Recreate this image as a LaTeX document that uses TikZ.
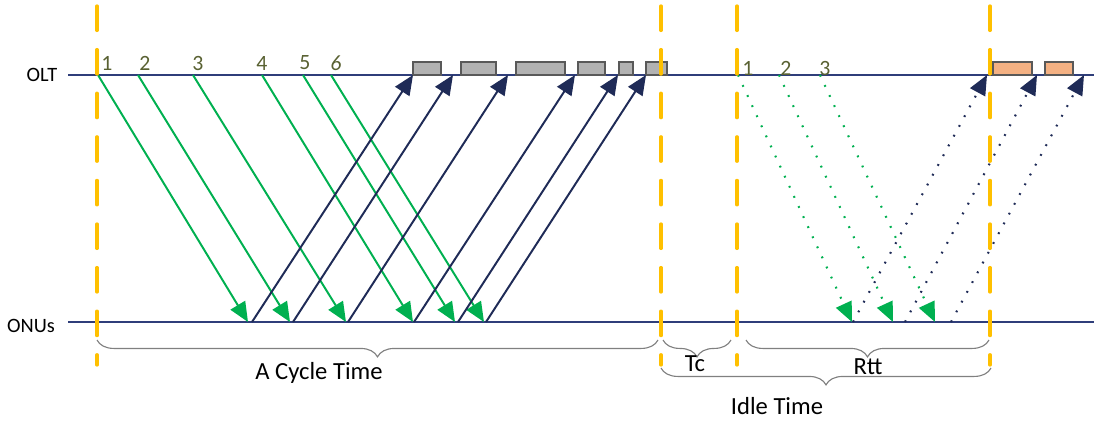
\documentclass[tikz,border=0pt]{standalone}
\usepackage{fontspec}
\setmainfont{Carlito}
\usetikzlibrary{arrows.meta,decorations.pathreplacing}
\definecolor{linenavy}{RGB}{47,62,122}
\definecolor{arrownavy}{RGB}{31,43,87}
\definecolor{grantgreen}{RGB}{0,176,80}
\definecolor{cycleorange}{RGB}{255,192,0}
\definecolor{olivenum}{RGB}{89,97,50}
\definecolor{greyslot}{RGB}{178,178,178}
\definecolor{orangeslot}{RGB}{244,177,131}

\begin{document}
\begin{tikzpicture}[x=0.025cm,y=-0.025cm,>={Triangle[length=14pt,width=12pt]},
                    line join=miter]
\tikzstyle{every node}=[font=\fontsize{14.5}{17}\selectfont,inner sep=0pt]
  \tikzstyle{fibre}=[draw=linenavy,line width=1.8pt]
  \tikzstyle{grant}=[->,draw=grantgreen,line width=1.4pt]
  \tikzstyle{report}=[->,draw=arrownavy,line width=1.4pt]
  \tikzstyle{dotline}=[line width=1.5pt,dash pattern=on 1.3pt off 6.6pt]
  \tikzstyle{cycleline}=[draw=cycleorange,line width=2.3pt,line cap=round,dash pattern=on 17.4pt off 13.6pt]
  \tikzstyle{slot}=[draw=black!65,line width=1.1pt]
  \tikzstyle{spanbrace}=[draw=black!50,line width=0.8pt,decorate,decoration={brace,mirror,amplitude=12pt}]
  \tikzstyle{num}=[text=olivenum,font=\fontsize{15.5}{18}\selectfont]
  \tikzstyle{spantext}=[font=\fontsize{17.5}{20}\selectfont]
\useasboundingbox (0,0) rectangle (1094,423);

% OLT and ONU time lines
\node (olt) at (42,75) {OLT};
\node (onu) at (31,326) {ONUs};
\coordinate (oltl) at (68,75); \coordinate (oltr) at (1094,75);
\coordinate (onul) at (68,322); \coordinate (onur) at (1094,322);
\draw[fibre] (oltl) -- (oltr);
\draw[fibre] (onul) -- (onur);

% upstream slots
\draw[slot,fill=greyslot] (413,62) rectangle (441,75);
\draw[slot,fill=greyslot] (461,62) rectangle (496,75);
\draw[slot,fill=greyslot] (516,62) rectangle (565,75);
\draw[slot,fill=greyslot] (578,62) rectangle (605,75);
\draw[slot,fill=greyslot] (619,62) rectangle (633,75);
\draw[slot,fill=greyslot] (646,62) rectangle (667,75);
\draw[slot,fill=orangeslot] (993,62) rectangle (1032,75);
\draw[slot,fill=orangeslot] (1045,62) rectangle (1073,75);

% grant numbers
\foreach \i/\x in {1/107,2/145,3/198,4/262,5/305}
  \node[num] (n\i) at (\x,63) {\i};
\node[num] (n6) at (336,63) {\textit{6}};
\foreach \i/\x in {1/748,2/786,3/825}
  \node[num] (m\i) at (\x,68) {\i};

% grants and reports in the cycle
\foreach \i/\a/\b in {1/98/248,2/138/290,3/193/346,4/262/413,5/303/455,6/331/484}{
  \coordinate (gs\i) at (\a,75); \coordinate (ge\i) at (\b,322);
  \draw[grant] (gs\i) -- (ge\i);}
\foreach \i/\a/\b in {1/252/413,2/293/453,3/348/508,4/414/575,5/458/618,6/486/646}{
  \coordinate (rs\i) at (\a,322); \coordinate (re\i) at (\b,75);
  \draw[report] (rs\i) -- (re\i);}

% idle period
\foreach \i/\a/\b in {1/738/852,2/779/893,3/820/935}{
  \coordinate (ds\i) at (\a,75); \coordinate (de\i) at (\b,322);
  \draw[grant,dotline] (ds\i) -- (de\i);}
\foreach \i/\a/\b in {1/853/987,2/905/1037,3/951/1084}{
  \coordinate (us\i) at (\a,322); \coordinate (ue\i) at (\b,75);
  \draw[report,dotline] (us\i) -- (ue\i);}

% cycle borders
\foreach \x [count=\i] in {97,661,737,990}{
  \coordinate (top\i) at (\x,6); \coordinate (bot\i) at (\x,365);
  \draw[cycleline] (top\i) -- (bot\i);}

% braces
\draw[spanbrace] (97,340) -- (658,340);
\node[spantext] (cycle) at (319,373) {A Cycle Time};
\draw[spanbrace] (663,340) -- (731,340);
\node[spantext] (tc) at (695,364) {Tc};
\draw[spanbrace] (746,340) -- (989,340);
\node[spantext] (rtt) at (868,367) {Rtt};
\draw[spanbrace] (661,368) -- (991,368);
\node[spantext] (idle) at (777,406) {Idle Time};

	\end{tikzpicture}
\end{document}
